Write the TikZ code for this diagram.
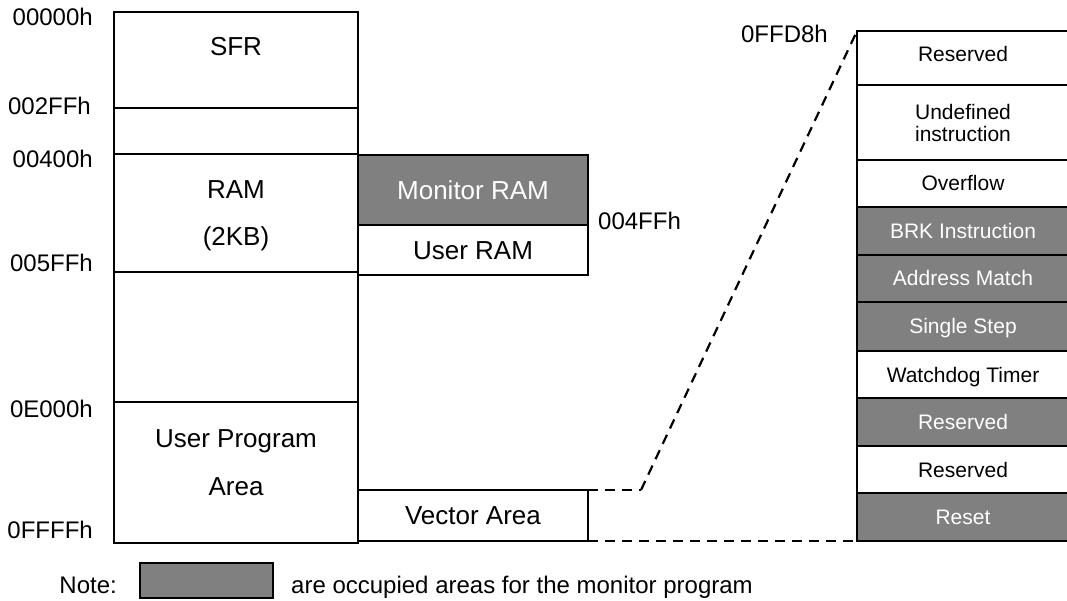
\documentclass[tikz,border=0pt]{standalone}
\usepackage{fontspec}
\setmainfont{Liberation Sans}
\begin{document}
\begin{tikzpicture}[x=1pt,y=-1pt,
    mem/.style={draw=black,line width=2.6pt,outer sep=0pt,inner sep=0pt},
    occ/.style={fill=gray,text=white},
    bigtxt/.style={font=\fontsize{26}{30}\selectfont},
    addr/.style={font=\fontsize{24}{28}\selectfont,inner sep=0pt},
    vectxt/.style={font=\fontsize{21}{22}\selectfont,text height=15pt,text depth=0pt},
    link/.style={draw=black,line width=2.2pt,dash pattern=on 10pt off 7pt}]
  \useasboundingbox (0,0) rectangle (1067,601);
  \clip (0,0) rectangle (1067,601);

  % main memory map
  \begin{scope}[every node/.style={mem,minimum width=244pt}]
    \node[minimum height=96pt]  (sfr)  at (236,60)    {};
    \node[minimum height=46pt]  (gapa) at (236,131)   {};
    \node[minimum height=118pt] (ram)  at (236,213)   {};
    \node[minimum height=130pt] (gapb) at (236,337)   {};
    \node[minimum height=141pt] (upa)  at (236,472.5) {};
  \end{scope}
  \begin{scope}[every node/.style={bigtxt,anchor=base,inner sep=0pt}]
    \node (sfrtxt)  at (236,56)  {SFR};
    \node (ramtxt)  at (236,199) {RAM};
    \node (ramsize) at (236,246) {(2KB)};
    \node (upatxt)  at (236,447) {User Program};
    \node (upaarea) at (236,495) {Area};
  \end{scope}

  % RAM split and vector area
  \begin{scope}[every node/.style={mem,bigtxt,minimum width=230pt,text height=18.5pt,text depth=0pt}]
    \node[occ,minimum height=70pt] (monram)  at (473,190)   {Monitor RAM};
    \node[minimum height=50pt]     (usrram)  at (473,250)   {User RAM};
    \node[minimum height=51pt]     (vecarea) at (473,515.5) {Vector Area};
  \end{scope}

  % vector table
  \begin{scope}[every node/.style={mem,vectxt,minimum width=212pt}]
    \node[minimum height=54pt,text depth=8pt] (v1) at (963,58) {Reserved};
    \node[minimum height=75pt,align=center,text height=,text depth=] (v2) at (963,122.5) {Undefined\\instruction};
    \node[minimum height=47pt] (v3) at (963,183.5) {Overflow};
    \node[occ,minimum height=48pt] (v4) at (963,231) {BRK Instruction};
    \node[occ,minimum height=47pt] (v5) at (963,278.5) {Address Match};
    \node[occ,minimum height=49pt] (v6) at (963,326.5) {Single Step};
    \node[minimum height=47pt] (v7) at (963,374.5) {Watchdog Timer};
    \node[occ,minimum height=48pt] (v8) at (963,422) {Reserved};
    \node[minimum height=47pt] (v9) at (963,469.5) {Reserved};
    \node[occ,minimum height=48pt] (v10) at (963,517) {Reset};
  \end{scope}

  % addresses
  \begin{scope}[every node/.style={addr,anchor=base east}]
    \node (a0) at (93,26)  {00000h};
    \node (a1) at (91,115) {002FFh};
    \node (a2) at (93,168) {00400h};
    \node (a3) at (93,272) {005FFh};
    \node (a4) at (93,417) {0E000h};
    \node (a5) at (93,538) {0FFFFh};
    \node (a7) at (828,43) {0FFD8h};
  \end{scope}
  \node[addr,anchor=base west] (a6) at (598,230) {004FFh};

  % legend
  \node[addr,anchor=base east] (note) at (117,593) {Note:};
  \node[mem,occ,minimum width=133pt,minimum height=35pt] (key) at (206.5,580.5) {};
  \node[addr,anchor=base west] (keytxt) at (291,593) {are occupied areas for the monitor program};

  \coordinate (bend) at (641,490);
  \begin{scope}[every edge/.style={link}]
    \path (vecarea.north east) edge (bend);
    \path (bend) edge (v1.north west);
    \path (vecarea.south east) edge (v10.south west);
  \end{scope}
\end{tikzpicture}
\end{document}
